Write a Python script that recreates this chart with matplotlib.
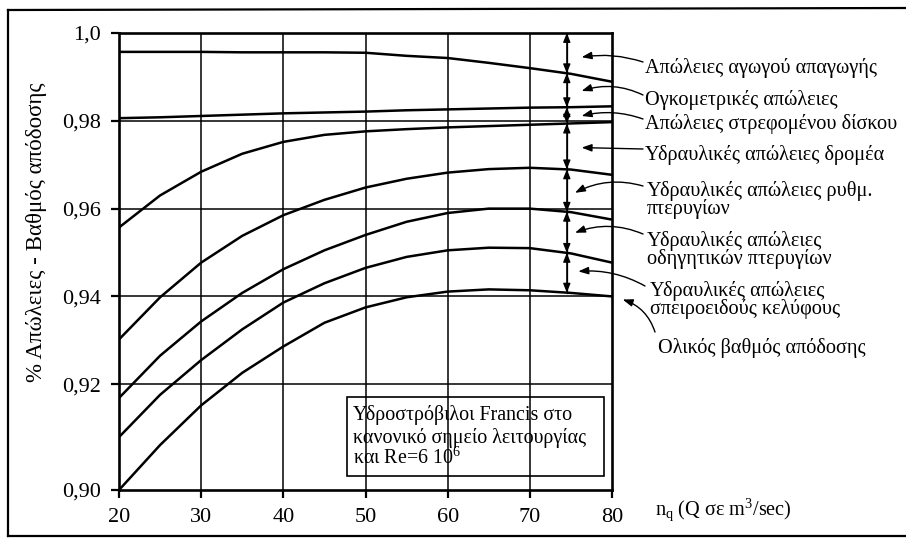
import numpy as np
import matplotlib
matplotlib.use("Agg")
import matplotlib.pyplot as plt
from matplotlib.patches import Rectangle
from matplotlib.lines import Line2D

plt.rcParams['font.family'] = ['Liberation Serif', 'DejaVu Serif']
plt.rcParams['mathtext.fontset'] = 'custom'
plt.rcParams['mathtext.rm'] = 'Liberation Serif'
plt.rcParams['mathtext.it'] = 'Liberation Serif:italic'

# data
nq = [20, 25, 30, 35, 40, 45, 50, 55, 60, 65, 70, 75, 80]
eta_outlet = [.9957, .9957, .9957, .9956, .9956, .9956, .9955, .9948, .9943, .9932, .9920, .9907, .9889]
eta_volumetric = [.9806, .9808, .9811, .9814, .9817, .9819, .9821, .9824, .9826, .9828, .9830, .9831, .9833]
eta_disk = [.9557, .9630, .9684, .9725, .9752, .9768, .9776, .9781, .9785, .9788, .9791, .9794, .9797]
eta_runner = [.9302, .9398, .9477, .9538, .9585, .9620, .9648, .9668, .9682, .9690, .9693, .9689, .9677]
eta_wicket = [.9174, .9265, .9343, .9408, .9462, .9505, .9540, .9570, .9590, .9600, .9600, .9592, .9575]
eta_stay = [.9100, .9180, .9255, .9325, .9386, .9430, .9465, .9490, .9505, .9511, .9510, .9498, .9477]
eta_total = [.9000, .9085, .9160, .9226, .9286, .9340, .9375, .9398, .9411, .9416, .9414, .9408, .9400]

curves = [eta_outlet, eta_volumetric, eta_disk, eta_runner, eta_wicket, eta_stay, eta_total]

labels = [
    "Απώλειες αγωγού απαγωγής",
    "Ογκομετρικές απώλειες",
    "Απώλειες στρεφομένου δίσκου",
    "Υδραυλικές απώλειες δρομέα",
    "Υδραυλικές απώλειες ρυθμ.\nπτερυγίων",
    "Υδραυλικές απώλειες\nοδηγητικών πτερυγίων",
    "Υδραυλικές απώλειες\nσπειροειδούς κελύφους",
    "Ολικός βαθμός απόδοσης",
]
label_heads = [(76.3, .9945), (76.3, .9868), (76.3, .9811), (76.3, .9739),
               (75.5, .9636), (75.5, .9545), (75.9, .9457), (81.3, .9393)]

xticks = [20, 30, 40, 50, 60, 70, 80]
yticks = [0.90, 0.92, 0.94, 0.96, 0.98, 1.00]
ytick_labels = ["0,90", "0,92", "0,94", "0,96", "0,98", "1,0"]
x_marker = 74.5

W, H = 906, 538


# the scanned axis has a taller bottom band (0.90-0.92)
def fwd(y):
    y = np.asarray(y, dtype=float)
    return np.where(y >= 0.92, 106 + (y - 0.92) / 0.02 * 88, (y - 0.90) / 0.02 * 106)


def inv(v):
    v = np.asarray(v, dtype=float)
    return np.where(v >= 106, 0.92 + (v - 106) / 88 * 0.02, 0.90 + v / 106 * 0.02)


fig = plt.figure(figsize=(W / 100, H / 100), dpi=100)
fig.patch.set_facecolor('white')
ax = fig.add_axes([119 / W, 1 - 490 / H, (612 - 119) / W, (490 - 33) / H])
ax.set_yscale('function', functions=(fwd, inv))
ax.set_xlim(20, 80)
ax.set_ylim(0.90, 1.00)

for yv in yticks[1:-1]:
    ax.axhline(yv, color='black', lw=1.1, zorder=1)
for xv in xticks[1:-1]:
    ax.axvline(xv, color='black', lw=1.1, zorder=1)

for c in curves:
    ax.plot(nq, c, color='black', lw=1.8, zorder=3)

# vertical double arrows between curves
bounds = [1.0] + [float(np.interp(x_marker, nq, c)) for c in curves]
ax.plot([x_marker, x_marker], [bounds[0], bounds[-1]], color='black', lw=0.9, zorder=2)
for top, bot in zip(bounds[:-1], bounds[1:]):
    ax.annotate('', xy=(x_marker, bot), xytext=(x_marker, top),
                arrowprops=dict(arrowstyle='<|-|>,head_length=0.55,head_width=0.22',
                                color='black', lw=0.9, shrinkA=0, shrinkB=0))

# labels on the right with arrows
text_pos = [(645, 68), (645, 100), (645, 124), (645, 155), (647, 200), (647, 250), (650, 300), (658, 348)]
tails = [(643, 62), (643, 95), (643, 119), (643, 149), (643, 186), (643, 234), (645, 286), (655, 332)]
rads = [0.12, 0.2, 0.15, 0.0, 0.2, 0.2, 0.15, 0.25]
for lab, (tx, ty), (hx, hy), (sx, sy), r in zip(labels, text_pos, label_heads, tails, rads):
    fig.text(tx / W, 1 - ty / H, lab, fontsize=14.6, ha='left', va='center', linespacing=0.85)
    ax.annotate('', xy=(hx, hy), xycoords='data', xytext=(sx, H - sy), textcoords='figure pixels',
                annotation_clip=False,
                arrowprops=dict(arrowstyle='-|>,head_length=0.6,head_width=0.22', color='black',
                                lw=1.0, shrinkA=0, shrinkB=0, connectionstyle='arc3,rad=%s' % r))

# info box
ax.add_patch(Rectangle((47.7, 0.9026), 31.3, 0.0149, fill=False, edgecolor='black', lw=1.2, zorder=4))
ax.text(48.5, 0.9141, "Υδροστρόβιλοι Francis στο", fontsize=14.4, va='center', ha='left')
ax.text(48.5, 0.9099, "κανονικό σημείο λειτουργίας", fontsize=14.4, va='center', ha='left')
ax.text(48.5, 0.9060, "και Re=6 10$^6$", fontsize=14.4, va='center', ha='left')

ax.set_xticks(xticks)
ax.set_yticks(yticks)
ax.set_yticklabels(ytick_labels)
ax.yaxis.set_minor_locator(matplotlib.ticker.NullLocator())
ax.tick_params(axis='both', labelsize=16, length=6, width=1.6, direction='out', color='black')
ax.tick_params(axis='y', pad=7)
ax.tick_params(axis='x', pad=7)
for s in ax.spines.values():
    s.set_linewidth(1.9)

fig.text(37 / W, 1 - 232 / H, "% Απώλειες - Βαθμός απόδοσης", rotation=90, fontsize=16.5,
         ha='center', va='center')
fig.text(655 / W, 1 - 510 / H, "n$_\\mathrm{q}$ (Q σε m$^3$/sec)", fontsize=14.6, ha='left', va='center')

# scan border
fig.add_artist(Line2D([8 / W, 8 / W], [1 - 10 / H, 1 - 536 / H], color='black', lw=1.6))
fig.add_artist(Line2D([8 / W, 1.0], [1 - 10 / H, 1 - 8 / H], color='black', lw=1.6))
fig.add_artist(Line2D([8 / W, 1.0], [1 - 536 / H, 1 - 536 / H], color='black', lw=1.6))

fig.savefig("out.png", dpi=100)
